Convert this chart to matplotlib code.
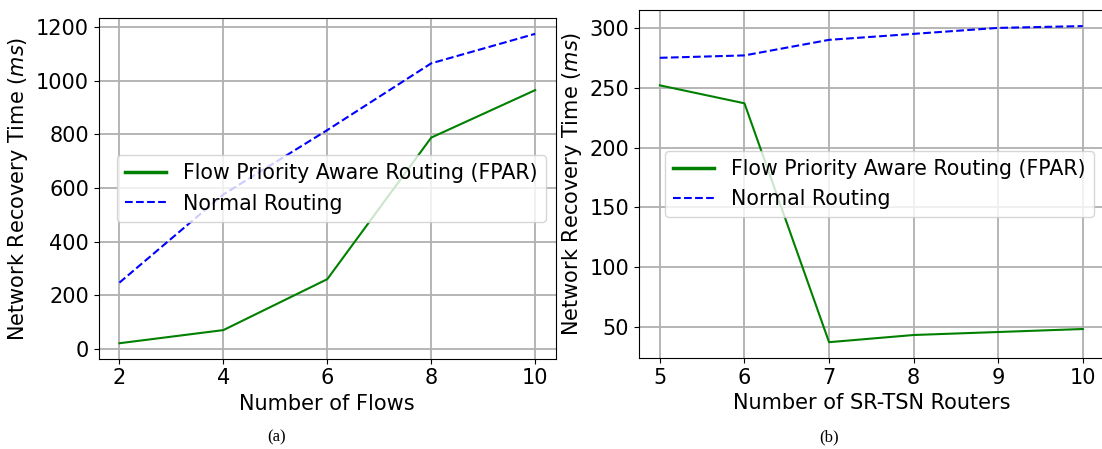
import matplotlib
matplotlib.use('Agg')
import matplotlib.pyplot as plt

# panel (a): recovery time vs number of flows
flows = [2, 4, 6, 8, 10]
fpar_flows = [21, 70, 260, 788, 965]
normal_flows = [247, 576, 816, 1065, 1175]

# panel (b): recovery time vs number of SR-TSN routers
routers = [5, 6, 7, 8, 9, 10]
fpar_routers = [252, 237, 37.5, 43.5, 46, 48.5]
normal_routers = [275, 277, 290, 295, 300, 301.5]

LABEL_FPAR = 'Flow Priority Aware Routing (FPAR)'
LABEL_NORMAL = 'Normal Routing'
YLABEL = 'Network Recovery Time ($ms$)'

plt.rcParams['font.size'] = 15

fig = plt.figure(figsize=(11.02, 4.49), dpi=100)
ax1 = fig.add_axes([0.0895, 0.2011, 0.415, 0.758])
ax2 = fig.add_axes([0.5796, 0.2027, 0.4222, 0.7744])

ax1.plot(flows, fpar_flows, color='green', linewidth=1.5, label=LABEL_FPAR)
ax1.plot(flows, normal_flows, 'b--', linewidth=1.5, label=LABEL_NORMAL)
ax1.set_xticks(flows)
ax1.set_yticks([0, 200, 400, 600, 800, 1000, 1200])
ax1.set_xlabel('Number of Flows')
ax1.set_ylabel(YLABEL)

ax2.plot(routers, fpar_routers, color='green', linewidth=1.5, label=LABEL_FPAR)
ax2.plot(routers, normal_routers, 'b--', linewidth=1.5, label=LABEL_NORMAL)
ax2.set_xticks(routers)
ax2.set_yticks([50, 100, 150, 200, 250, 300])
ax2.set_xlabel('Number of SR-TSN Routers')
ax2.set_ylabel(YLABEL)

for ax in (ax1, ax2):
    ax.grid(True, color='#b0b0b0', linewidth=1.3)
    ax.set_axisbelow(True)
    leg = ax.legend(loc='center right', fontsize=14.8)
    for line in leg.get_lines():
        line.set_linewidth(2.5 if line.get_linestyle() == '-' else 1.5)

fig.text(277 / 1102, 1 - 437 / 449, '(a)', ha='center', va='center',
         family='Liberation Serif', fontsize=12)
fig.text(829 / 1102, 1 - 437 / 449, '(b)', ha='center', va='center',
         family='Liberation Serif', fontsize=12)

fig.savefig('out.png', dpi=100)
